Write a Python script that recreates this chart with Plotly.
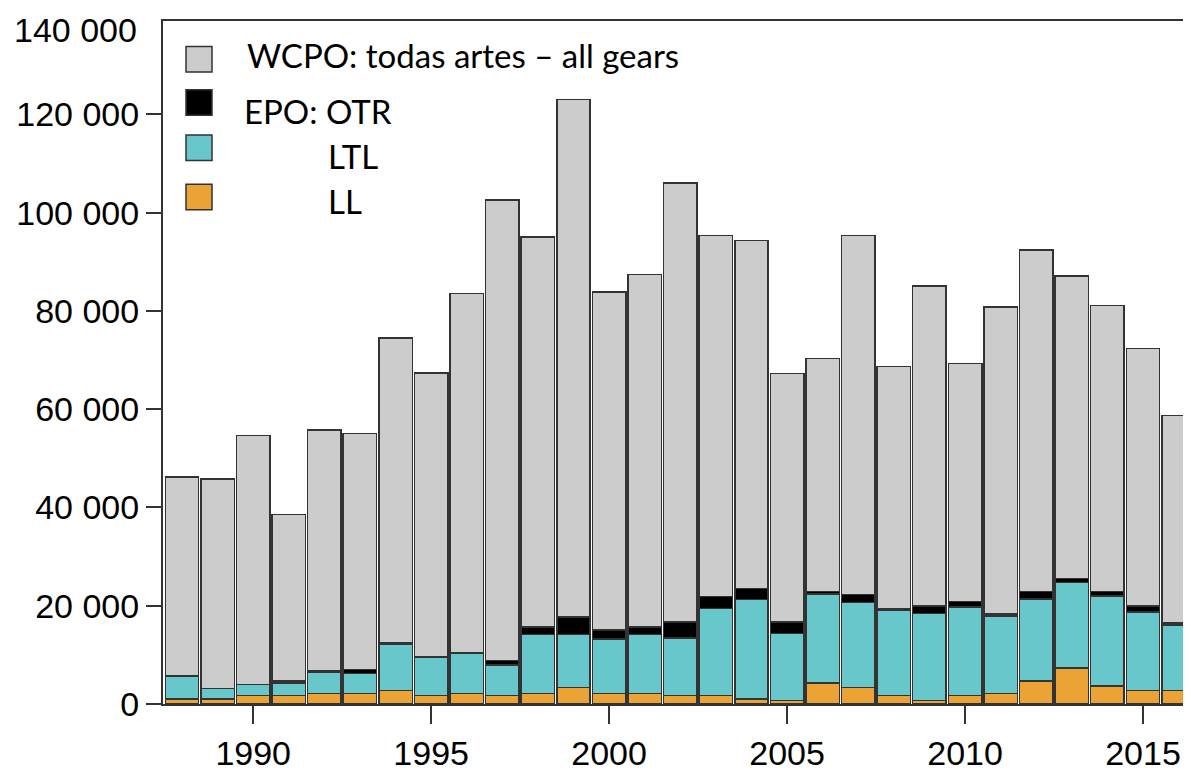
import plotly.graph_objects as go

years = list(range(1988, 2017))

# EPO longline (LL)
ll = [1000, 1000, 1700, 1700, 2100, 2100, 2700, 1700, 2100, 1700, 2100, 3400, 2100, 2100, 1700,
      1700, 1000, 700, 4300, 3400, 1700, 700, 1700, 2100, 4700, 7300, 3700, 2700, 2700]
# EPO LTL
ltl = [4700, 2200, 2300, 2600, 4400, 4100, 9500, 7900, 8200, 6200, 12000, 10700, 11100, 12000, 11700,
       17700, 20300, 13600, 18100, 17300, 17400, 17700, 18000, 15800, 16700, 17400, 18300, 16000, 13400]
# EPO other gears (OTR)
otr = [0, 0, 0, 400, 200, 800, 200, 100, 100, 1000, 1600, 3600, 1900, 1600, 3300,
       2500, 2200, 2400, 500, 1600, 200, 1500, 1200, 400, 1500, 800, 900, 1200, 400]
# WCPO all gears
wcpo = [40500, 42600, 50600, 33900, 49100, 48100, 62100, 57700, 73100, 93700, 79300, 105300, 68700, 71700, 89300,
        73400, 70800, 50600, 47400, 73000, 49400, 65200, 48400, 62500, 69500, 61600, 58200, 52400, 42200]

y_tickvals = [0, 20000, 40000, 60000, 80000, 100000, 120000]
y_ticktext = ["0", "20 000", "40 000", "60 000", "80 000", "100 000", "120 000"]
y_top_label = "140 000"
x_tickvals = [1990, 1995, 2000, 2005, 2010, 2015]

series = [
    ("LL", ll, "#EBA336"),
    ("LTL", ltl, "#68C7CB"),
    ("EPO: OTR", otr, "#000000"),
    ("WCPO: todas artes – all gears", wcpo, "#CCCCCC"),
]

fig = go.Figure()
for name, vals, col in series:
    fig.add_trace(go.Bar(x=years, y=vals, name=name, marker_color=col,
                         marker_line=dict(color="#333333", width=1.5), showlegend=False))

OFF = 8  # page body margin
PAGE_W, PAGE_H = 1191, 780
W, H = PAGE_W - OFF, PAGE_H - 2 * OFF
# plot area in page pixels: x 163..1191, y 21..716
ml, mr, mt, mb = 163 - OFF, 0, 21 - OFF, H - (716 - OFF)
pw, ph = W - ml - mr, H - mt - mb

def px(x):
    return (x - OFF - ml) / pw

def py(y):
    return (H - mb - (y - OFF)) / ph

# manual legend
legend_items = [
    ("WCPO: todas artes – all gears", "#CCCCCC", 47, 245, 56),
    ("EPO: OTR", "#000000", 91, 242, 113),
    ("LTL", "#68C7CB", 137, 326, 158),
    ("LL", "#EBA336", 187, 326, 204),
]
shapes = []
annotations = []
for text, col, sy, tx, ty in legend_items:
    shapes.append(dict(type="rect", xref="paper", yref="paper",
                       x0=px(186), x1=px(212), y0=py(sy + 26), y1=py(sy),
                       fillcolor=col, line=dict(color="#333333", width=1.5)))
    annotations.append(dict(text=text, xref="paper", yref="paper", x=px(tx), y=py(ty),
                            xanchor="left", yanchor="middle", showarrow=False,
                            font=dict(family="Lato", size=33, color="black")))

annotations.append(dict(text=y_top_label, xref="paper", yref="paper", x=px(139), y=py(30),
                        xanchor="right", yanchor="middle", showarrow=False,
                        font=dict(family="Liberation Sans", size=34, color="black")))

fig.update_layout(
    width=W, height=H,
    margin=dict(l=ml, r=mr, t=mt, b=mb),
    barmode="stack", bargap=0.06,
    plot_bgcolor="white", paper_bgcolor="white",
    shapes=shapes, annotations=annotations,
    font=dict(family="Liberation Sans", size=34, color="black"),
)
fig.update_xaxes(range=[1987.466, 2016.349], tickvals=x_tickvals,
                 showline=True, linecolor="#333333", linewidth=2, mirror=True,
                 ticks="outside", ticklen=18, tickwidth=2, tickcolor="#333333",
                 showgrid=False, zeroline=False, tickfont=dict(size=34))
fig.update_yaxes(range=[0, 139000], tickvals=y_tickvals, ticktext=y_ticktext,
                 showline=True, linecolor="#333333", linewidth=2,
                 ticks="outside", ticklen=15, tickwidth=2, tickcolor="#333333",
                 showgrid=False, zeroline=False, tickfont=dict(size=34))

fig.write_html("out.html")
